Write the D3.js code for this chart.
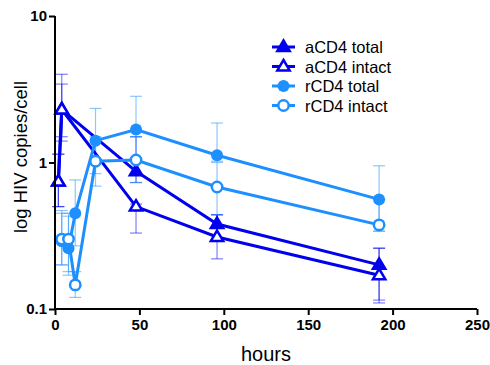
<!DOCTYPE html>
<html><head><meta charset="utf-8">
<script src="https://cdn.jsdelivr.net/npm/d3@7"></script>
<style>body{margin:0;background:#fff}svg{display:block}text{font-family:Arial,"Liberation Sans",sans-serif}</style>
</head><body><svg id="c" width="490" height="365"></svg>
<script>
const aHours = [2, 4, 48, 96, 192];
const rHours = [4, 8, 12, 24, 48, 96, 192];
const aTotal = [0.74, 2.30, 0.87, 0.38, 0.20];
const aTotalLo = [0.50, 1.50, 0.73, 0.30, 0.115];
const aTotalHi = [1.14, 4.00, 1.50, 0.44, 0.26];
const aIntact = [0.74, 2.30, 0.50, 0.31, 0.17];
const aIntactLo = [0.50, 1.40, 0.33, 0.22, 0.11];
const aIntactHi = [1.14, 3.43, 0.52, 0.44, 0.26];
const rTotal = [0.29, 0.26, 0.45, 1.41, 1.68, 1.12, 0.56];
const rTotalLo = [0.20, 0.17, 0.27, 0.84, 1.50, 1.02, 0.34];
const rTotalHi = [0.45, 0.43, 0.76, 2.34, 2.83, 1.86, 0.95];
const rIntact = [0.30, 0.30, 0.146, 1.02, 1.04, 0.68, 0.375];
const rIntactLo = [0.20, 0.18, 0.12, 0.69, 0.73, 0.44, 0.34];
const rIntactHi = [0.47, 0.45, 0.18, 1.50, 1.50, 1.00, 0.56];
const xTicks = [0, 50, 100, 150, 200, 250];
const yTicks = [0.1, 1, 10];
const seriesNames = ["aCD4 total", "aCD4 intact", "rCD4 total", "rCD4 intact"];

const dark = "#0000ee", light = "#1e8fff";
const series = [
  {name: seriesNames[0], x: aHours, y: aTotal, lo: aTotalLo, hi: aTotalHi, color: dark, shape: "tri", filled: true},
  {name: seriesNames[1], x: aHours, y: aIntact, lo: aIntactLo, hi: aIntactHi, color: dark, shape: "tri", filled: false},
  {name: seriesNames[2], x: rHours, y: rTotal, lo: rTotalLo, hi: rTotalHi, color: light, shape: "circ", filled: true},
  {name: seriesNames[3], x: rHours, y: rIntact, lo: rIntactLo, hi: rIntactHi, color: light, shape: "circ", filled: false}
];

const svg = d3.select("#c");
const x = d3.scaleLinear().domain([0, 250]).range([55, 477]);
const y = d3.scaleLog().domain([0.1, 10]).range([309, 16]);

// error bars
const eb = svg.append("g");
series.forEach(s => {
  s.x.forEach((h, i) => {
    const g = eb.append("g").attr("stroke", s.color).attr("stroke-opacity", 0.5).attr("stroke-width", 1.2);
    g.append("line").attr("x1", x(h)).attr("x2", x(h)).attr("y1", y(s.lo[i])).attr("y2", y(s.hi[i]));
    [s.lo[i], s.hi[i]].forEach(v => g.append("line").attr("x1", x(h) - 6).attr("x2", x(h) + 6).attr("y1", y(v)).attr("y2", y(v)));
  });
});

function marker(g, s, cx, cy) {
  if (s.shape === "tri") {
    const r = 6.5;
    g.append("path")
      .attr("d", `M${cx},${cy - r}L${cx + r * 0.95},${cy + r * 0.6}L${cx - r * 0.95},${cy + r * 0.6}Z`)
      .attr("fill", s.filled ? s.color : "#fff").attr("stroke", s.color).attr("stroke-width", 2.5).attr("stroke-linejoin", "miter");
  } else {
    g.append("circle").attr("cx", cx).attr("cy", cy).attr("r", s.filled ? 6 : 5.2)
      .attr("fill", s.filled ? s.color : "#fff").attr("stroke", s.color).attr("stroke-width", s.filled ? 0 : 2.5);
  }
}

const line = d3.line().x(d => x(d[0])).y(d => y(d[1]));
series.forEach(s => {
  const pts = s.x.map((h, i) => [h, s.y[i]]);
  svg.append("path").attr("d", line(pts)).attr("fill", "none").attr("stroke", s.color).attr("stroke-width", 3);
});
series.forEach(s => {
  const g = svg.append("g");
  s.x.forEach((h, i) => marker(g, s, x(h), y(s.y[i])));
});

// axes
const xAxis = svg.append("g").attr("transform", "translate(0,309)")
  .call(d3.axisBottom(x).tickValues(xTicks).tickSize(6).tickPadding(4).tickFormat(d3.format("d")));
const yAxis = svg.append("g").attr("transform", "translate(55,0)")
  .call(d3.axisLeft(y).tickValues(yTicks).tickSize(6).tickPadding(2).tickFormat(d => d === 0.1 ? "0.1" : String(d)));
[xAxis, yAxis].forEach(a => {
  a.select(".domain").attr("stroke", "#000").attr("stroke-width", 2);
  a.selectAll(".tick line").attr("stroke", "#000").attr("stroke-width", 2);
  a.selectAll(".tick text").attr("fill", "#000").attr("font-size", 15).attr("font-weight", "bold").style("font-family", "Arial, 'Liberation Sans', sans-serif");
});
xAxis.select(".domain").attr("d", "M55,0H477");
yAxis.select(".domain").attr("d", "M0,16V309");

svg.append("text").attr("x", 266).attr("y", 361).attr("text-anchor", "middle").attr("font-size", 20).text("hours");
svg.append("text").attr("transform", "translate(27,157) rotate(-90)").attr("text-anchor", "middle").attr("font-size", 18.5).text("log HIV copies/cell");

// legend
const lg = svg.append("g");
series.forEach((s, i) => {
  const ly = 47 + i * 19.5;
  lg.append("line").attr("x1", 272).attr("x2", 295).attr("y1", ly).attr("y2", ly).attr("stroke", s.color).attr("stroke-width", 3);
  marker(lg, s, 283.5, ly);
  lg.append("text").attr("x", 305).attr("y", ly + 6).attr("font-size", 16.5).attr("textLength", 103).attr("lengthAdjust", "spacingAndGlyphs")
    .attr("textLength", null).text(s.name);
});
</script></body></html>
